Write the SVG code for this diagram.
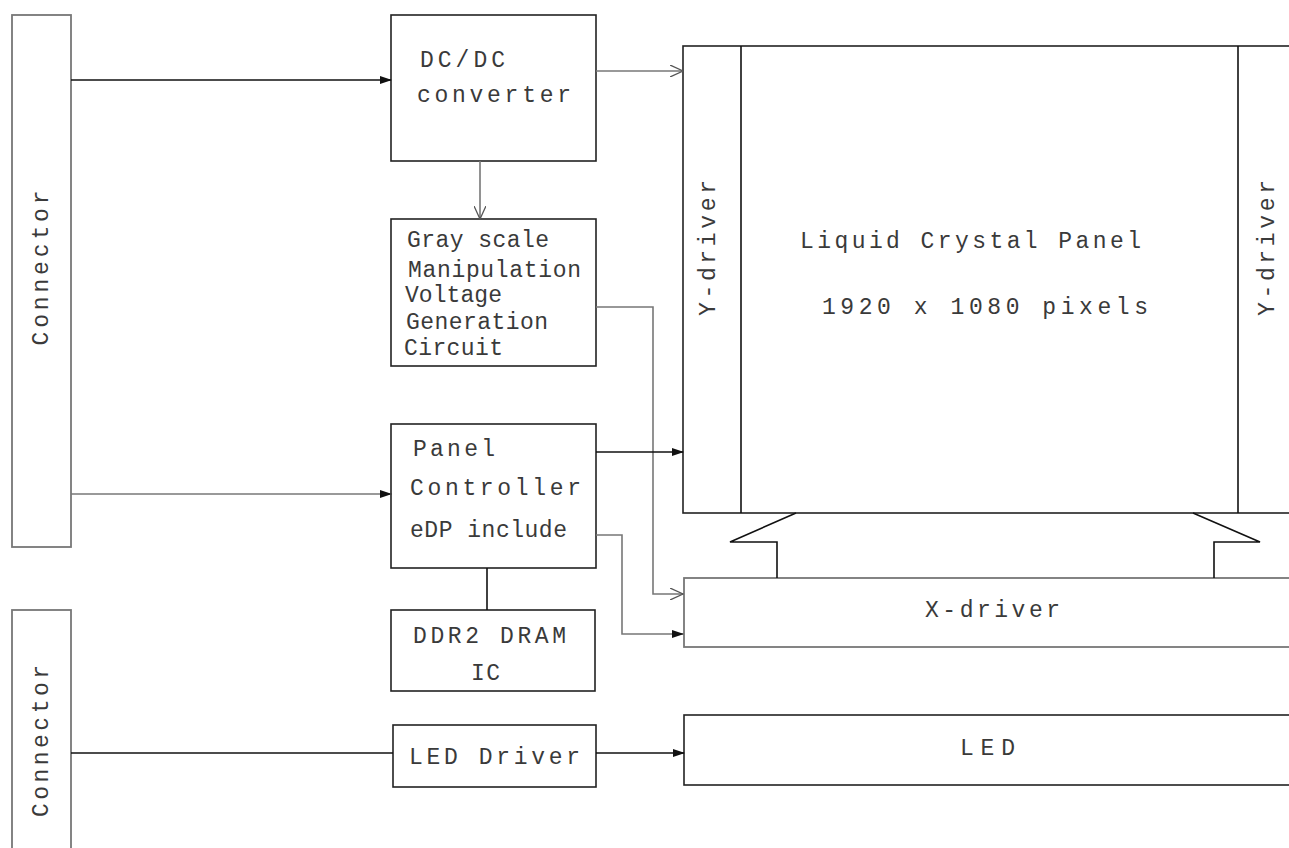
<svg xmlns="http://www.w3.org/2000/svg" width="1289" height="848" viewBox="0 0 1289 848">
<style>
.box{fill:#fff;stroke:#222;stroke-width:1.6}
.gbox{fill:#fff;stroke:#777;stroke-width:1.8}
.t{font-family:"Liberation Mono","Courier New",monospace;font-size:23px;fill:#3a3a3a}
.ln{fill:none;stroke:#111;stroke-width:1.6}
.gl{fill:none;stroke:#777;stroke-width:1.6}
</style>
<defs>
<marker id="solid" markerWidth="12" markerHeight="8" refX="11" refY="4" orient="auto" markerUnits="userSpaceOnUse">
<path d="M0,0 L12,4 L0,8 Z" fill="#111"/>
</marker>
<marker id="open" markerWidth="14" markerHeight="12" refX="13" refY="6" orient="auto" markerUnits="userSpaceOnUse">
<path d="M0,0 L13,6 L0,12" fill="none" stroke="#555" stroke-width="1.3"/>
</marker>
</defs>
<rect width="1289" height="848" fill="#fff"/>

<g id="connector-top">
<rect class="gbox" x="12" y="15" width="59" height="532"/>
<text class="t" transform="translate(48,268) rotate(-90)" text-anchor="middle" textLength="155" lengthAdjust="spacing">Connector</text>
</g>
<g id="connector-bottom">
<rect class="gbox" x="12" y="610" width="59" height="260"/>
<text class="t" transform="translate(48,741) rotate(-90)" text-anchor="middle" textLength="152" lengthAdjust="spacing">Connector</text>
</g>
<g id="dcdc">
<rect class="box" x="391" y="15" width="205" height="146"/>
<text class="t" x="420" y="67" textLength="85" lengthAdjust="spacing">DC/DC</text>
<text class="t" x="417" y="102" textLength="154" lengthAdjust="spacing">converter</text>
</g>
<g id="grayscale">
<rect class="box" x="391" y="219" width="205" height="147"/>
<text class="t" x="407" y="247" textLength="142" lengthAdjust="spacing">Gray scale</text>
<text class="t" x="408" y="277" textLength="173" lengthAdjust="spacing">Manipulation</text>
<text class="t" x="405" y="302" textLength="97" lengthAdjust="spacing">Voltage</text>
<text class="t" x="406" y="329" textLength="142" lengthAdjust="spacing">Generation</text>
<text class="t" x="404" y="355" textLength="99" lengthAdjust="spacing">Circuit</text>
</g>
<g id="panelcontroller">
<rect class="box" x="391" y="424" width="205" height="144"/>
<text class="t" x="413" y="456" textLength="82" lengthAdjust="spacing">Panel</text>
<text class="t" x="410" y="495" textLength="171" lengthAdjust="spacing">Controller</text>
<text class="t" x="410" y="537" textLength="157" lengthAdjust="spacing">eDP include</text>
</g>
<g id="ddr2">
<rect class="box" x="391" y="610" width="204" height="81"/>
<text class="t" x="413" y="643" textLength="153" lengthAdjust="spacing">DDR2 DRAM</text>
<text class="t" x="471" y="680" textLength="29" lengthAdjust="spacing">IC</text>
</g>
<g id="leddriver">
<rect class="box" x="393" y="725" width="203" height="62"/>
<text class="t" x="409" y="764" textLength="171" lengthAdjust="spacing">LED Driver</text>
</g>
<g id="lcpanel">
<rect class="box" x="683" y="46" width="620" height="467"/>
<line class="ln" x1="741" y1="46" x2="741" y2="513"/>
<line class="ln" x1="1238" y1="46" x2="1238" y2="513"/>
<text class="t" x="800" y="248" textLength="341" lengthAdjust="spacing">Liquid Crystal Panel</text>
<text class="t" x="822" y="314" textLength="326" lengthAdjust="spacing">1920 x 1080 pixels</text>
<text class="t" transform="translate(715,248) rotate(-90)" text-anchor="middle" textLength="136" lengthAdjust="spacing">Y-driver</text>
<text class="t" transform="translate(1274,248) rotate(-90)" text-anchor="middle" textLength="136" lengthAdjust="spacing">Y-driver</text>
</g>
<g id="xdriver">
<rect class="gbox" x="684" y="578" width="620" height="69"/>
<polyline class="ln" points="796,513 730,542 777,542 777,578"/>
<polyline class="ln" points="1193,513 1260,542 1214,542 1214,578"/>
<text class="t" x="925" y="617" textLength="135" lengthAdjust="spacing">X-driver</text>
</g>
<g id="led">
<rect class="box" x="684" y="715" width="620" height="70"/>
<text class="t" x="960" y="755" textLength="55" lengthAdjust="spacing">LED</text>
</g>
<g id="connectors">
<line class="ln" x1="71" y1="80" x2="391" y2="80" marker-end="url(#solid)"/>
<line class="gl" x1="596" y1="71" x2="683" y2="71" marker-end="url(#open)"/>
<line class="gl" x1="480" y1="161" x2="480" y2="219" marker-end="url(#open)"/>
<polyline class="gl" points="596,307 653,307 653,594 683,594" marker-end="url(#open)"/>
<line class="gl" x1="71" y1="494" x2="391" y2="494" marker-end="url(#solid)"/>
<line class="ln" x1="596" y1="452" x2="683" y2="452" marker-end="url(#solid)"/>
<polyline class="gl" points="596,535 622,535 622,634 683,634" marker-end="url(#solid)"/>
<line class="ln" x1="487" y1="568" x2="487" y2="610"/>
<line class="ln" x1="71" y1="753" x2="393" y2="753"/>
<line class="ln" x1="596" y1="753" x2="684" y2="753" marker-end="url(#solid)"/>
</g>
</svg>
